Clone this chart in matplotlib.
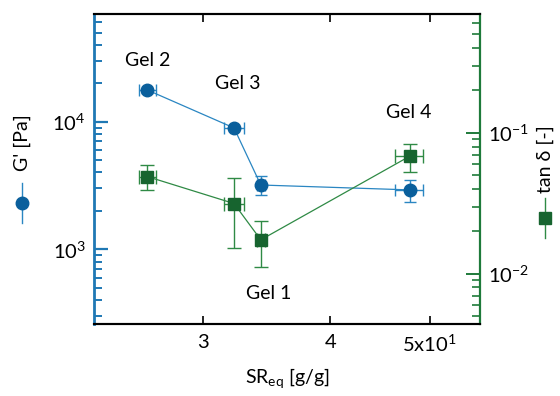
import matplotlib
matplotlib.use("Agg")
import matplotlib.pyplot as plt
from matplotlib.lines import Line2D
from matplotlib.ticker import FixedLocator, FixedFormatter, LogLocator, NullFormatter, NullLocator

plt.rcParams["font.family"] = ["Lato", "DejaVu Sans"]
plt.rcParams["mathtext.default"] = "regular"

gels = ["Gel 2", "Gel 3", "Gel 1", "Gel 4"]
sr_eq = [26.5, 32.2, 34.2, 47.8]
sr_err = [0.5, 0.7, 0.3, 1.5]
g_prime = [17700, 8930, 3190, 2920]
g_err = [800, 400, 550, 570]
tan_d = [0.0489, 0.0315, 0.0174, 0.0682]
tan_err = [0.0098, 0.0163, 0.0062, 0.0152]

label_pos = {"Gel 2": (26.5, 30400), "Gel 3": (32.5, 20100), "Gel 1": (34.8, 454), "Gel 4": (47.7, 11700)}

blue_mk = "#0a5f9c"
blue_ln = "#2a86c2"
blue_ax = "#1f78b4"
green_mk = "#17642f"
green_ln = "#2f8a45"
green_ax = "#1e7a3a"

fig = plt.figure(figsize=(5.6, 3.96), dpi=100)
ax = fig.add_axes([0.168, 0.182, 0.689, 0.783])
ax2 = ax.twinx()

ax.errorbar(sr_eq, g_prime, xerr=sr_err, yerr=g_err, fmt="o", color=blue_mk,
            ms=9, ecolor=blue_ln, elinewidth=1, capsize=4, zorder=3)
ax.plot(sr_eq, g_prime, "-", color=blue_ln, lw=0.9, zorder=2)

ax2.errorbar(sr_eq, tan_d, xerr=sr_err, yerr=tan_err, fmt="s", color=green_mk,
             ms=8, ecolor=green_ln, elinewidth=1, capsize=5, zorder=3)
ax2.plot(sr_eq, tan_d, "-", color=green_ln, lw=0.9, zorder=2)

ax.set_xscale("log")
ax.set_yscale("log")
ax2.set_yscale("log")
ax.set_xlim(23.5, 56)
ax.set_ylim(260, 70000)
ax2.set_ylim(0.0044, 0.7)

ax.xaxis.set_major_locator(FixedLocator([30, 40, 50]))
ax.xaxis.set_major_formatter(FixedFormatter(["3", "4", "5x10$^{1}$"]))
ax.xaxis.set_minor_locator(NullLocator())
ax.xaxis.set_minor_formatter(NullFormatter())

for a in (ax, ax2):
    a.yaxis.set_minor_locator(LogLocator(base=10, subs=range(2, 10)))
    a.yaxis.set_minor_formatter(NullFormatter())

ax.tick_params(axis="x", which="major", direction="in", length=6, width=1.2,
               top=True, labelsize=14.5, pad=7, color="black")
ax.tick_params(axis="y", which="major", direction="in", length=10, width=1.6,
               color=blue_ax, labelsize=14.5, pad=6)
ax.tick_params(axis="y", which="minor", direction="in", length=6, width=1.4, color=blue_ax)
ax2.tick_params(axis="y", which="major", direction="in", length=10, width=1.4,
                color=green_ax, labelsize=14.5, pad=6)
ax2.tick_params(axis="y", which="minor", direction="in", length=6, width=1.2, color=green_ax)

ax.spines["left"].set_color(blue_ax)
ax.spines["left"].set_linewidth(2)
ax2.spines["left"].set_visible(False)
ax2.spines["right"].set_color(green_ax)
ax2.spines["right"].set_linewidth(1.6)
for a in (ax, ax2):
    a.spines["top"].set_linewidth(1.5)
    a.spines["bottom"].set_linewidth(1.5)
ax.spines["right"].set_visible(False)

for g in gels:
    x, y = label_pos[g]
    ax.text(x, y, g, fontsize=14, ha="center", va="center")

ax.set_xlabel("SR$_{eq}$ [g/g]", fontsize=14, labelpad=8)

# axis labels with legend symbols
fig.text(0.039, 0.639, "G' [Pa]", rotation=90, ha="center", va="center", fontsize=14)
fig.add_artist(Line2D([0.039, 0.039], [0.437, 0.538], color=blue_ln, lw=1,
                      transform=fig.transFigure))
fig.add_artist(Line2D([0.039], [0.487], marker="o", ms=9, color=blue_mk,
                      transform=fig.transFigure))
fig.text(0.973, 0.598, "tan δ [-]", rotation=90, ha="center", va="center", fontsize=14)
fig.add_artist(Line2D([0.973, 0.973], [0.40, 0.50], color=green_ln, lw=1,
                      transform=fig.transFigure))
fig.add_artist(Line2D([0.973], [0.449], marker="s", ms=8, color=green_mk,
                      transform=fig.transFigure))

fig.savefig("out.png", dpi=100)
